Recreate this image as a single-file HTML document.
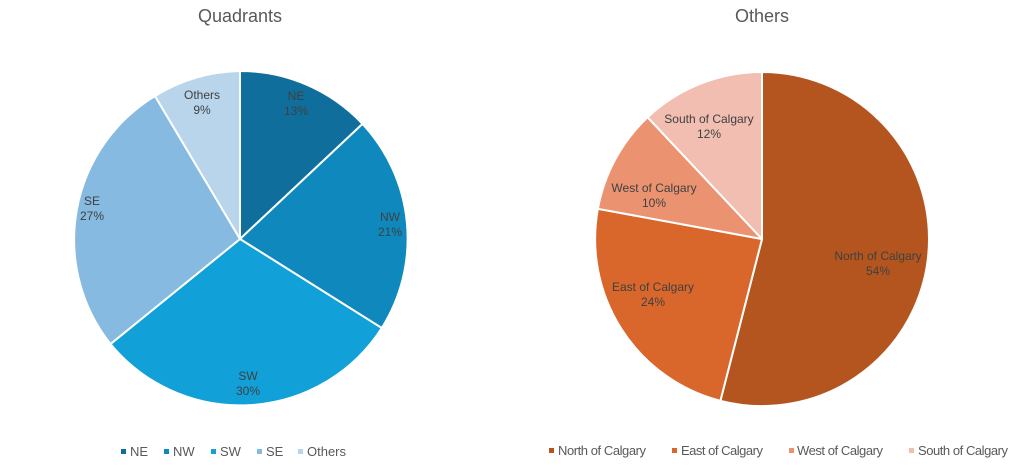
<!DOCTYPE html>
<html><head><style>
body{margin:0;background:#fff;}
svg{display:block;font-family:"Liberation Sans",sans-serif;}
</style></head><body>
<svg width="1024" height="466" viewBox="0 0 1024 466">
<rect width="1024" height="466" fill="#fff"/>
<text x="240" y="22" font-size="18" fill="#595959" text-anchor="middle">Quadrants</text>
<text x="762" y="22" font-size="18" fill="#595959" text-anchor="middle">Others</text>
<g stroke="#fff" stroke-width="2" stroke-linejoin="round">
<path d="M240,239 L240,71 A168,168 0 0 1 362.5,123.9 Z" fill="#0F6E9B"/>
<path d="M240,239 L362.5,123.9 A168,168 0 0 1 381.8,328 Z" fill="#0E88BD"/>
<path d="M240,239 L381.8,328 A168,168 0 0 1 110.5,344 Z" fill="#12A0D8"/>
<path d="M240,239 L110.5,344 A168,168 0 0 1 155,96 Z" fill="#86BAE0"/>
<path d="M240,239 L155,96 A168,168 0 0 1 240,71 Z" fill="#B8D5EC"/>
<path d="M762,239 L762,72 A167,167 0 0 1 929,239 A167,167 0 0 1 720.4,400.8 Z" fill="#B4551F"/>
<path d="M762,239 L720.4,400.8 A167,167 0 0 1 597.9,208.8 Z" fill="#D9662B"/>
<path d="M762,239 L597.9,208.8 A167,167 0 0 1 647.6,117.3 Z" fill="#EB9370"/>
<path d="M762,239 L647.6,117.3 A167,167 0 0 1 762,72 Z" fill="#F1BEB1"/>
</g>
<g font-size="12" fill="#404040" text-anchor="middle">
<text x="296" y="100">NE</text><text x="296" y="115">13%</text>
<text x="390" y="221">NW</text><text x="390" y="236">21%</text>
<text x="248" y="380">SW</text><text x="248" y="395">30%</text>
<text x="92" y="205">SE</text><text x="92" y="220">27%</text>
<text x="202" y="99">Others</text><text x="202" y="114">9%</text>
<text x="878" y="260">North of Calgary</text><text x="878" y="275">54%</text>
<text x="653" y="291">East of Calgary</text><text x="653" y="306">24%</text>
<text x="654" y="192">West of Calgary</text><text x="654" y="207">10%</text>
<text x="709" y="123">South of Calgary</text><text x="709" y="138">12%</text>
</g>
<g font-size="13" fill="#595959">
<rect x="121" y="449" width="5" height="5" fill="#0F6E9B"/><text x="130" y="456">NE</text>
<rect x="164" y="449" width="5" height="5" fill="#0E88BD"/><text x="173" y="456">NW</text>
<rect x="211" y="449" width="5" height="5" fill="#12A0D8"/><text x="220" y="456">SW</text>
<rect x="257" y="449" width="5" height="5" fill="#86BAE0"/><text x="266" y="456">SE</text>
<rect x="298" y="449" width="5" height="5" fill="#B8D5EC"/><text x="307" y="456">Others</text>
<rect x="549" y="448" width="5" height="5" fill="#B4551F"/><text x="558" y="455" textLength="88">North of Calgary</text>
<rect x="672" y="448" width="5" height="5" fill="#D9662B"/><text x="681" y="455" textLength="82">East of Calgary</text>
<rect x="789" y="448" width="5" height="5" fill="#EB9370"/><text x="797" y="455" textLength="86">West of Calgary</text>
<rect x="909" y="448" width="5" height="5" fill="#F1BEB1"/><text x="918" y="455" textLength="90">South of Calgary</text>
</g>
</svg>
</body></html>
